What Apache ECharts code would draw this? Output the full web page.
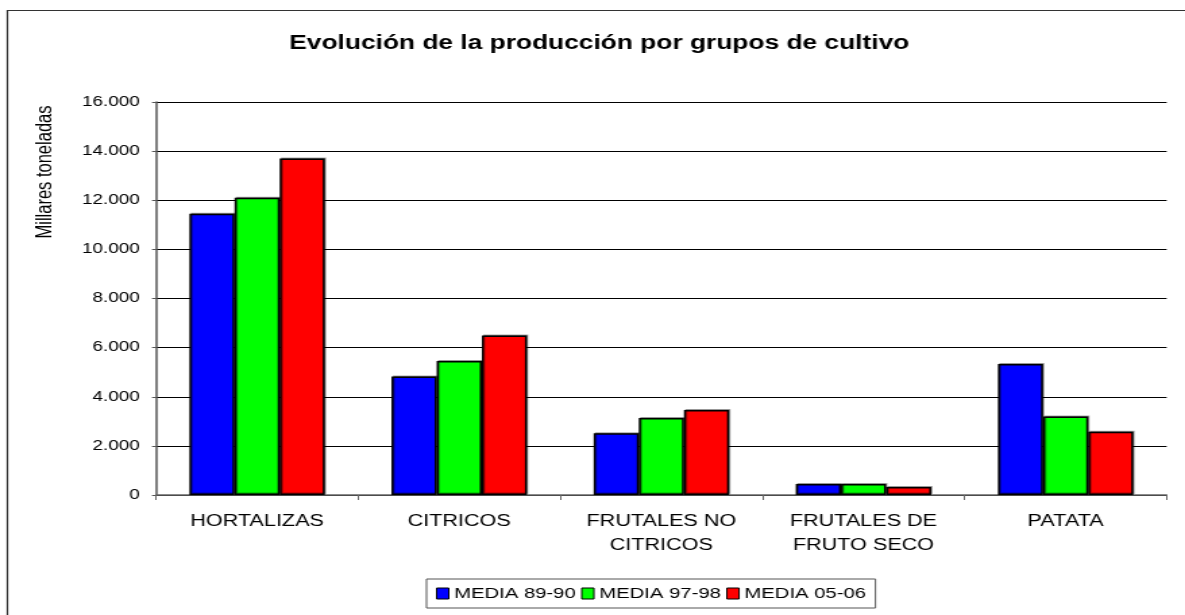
<!DOCTYPE html>
<html>
<head>
<meta charset="utf-8">
<title>Evolución de la producción por grupos de cultivo</title>
<script src="https://cdn.jsdelivr.net/npm/echarts@6/dist/echarts.min.js"></script>
<style>
  html, body { margin: 0; padding: 0; background: #fff; overflow: hidden; }
  /* el original esta estirado en horizontal: se dibuja mas estrecho y se escala */
  #chart { width: 878px; height: 615px; transform: scaleX(1.3497); transform-origin: 0 0; }
</style>
</head>
<body>
<div id="chart"></div>
<script>
// datos (miles de toneladas)
const categorias = ["HORTALIZAS", "CITRICOS", "FRUTALES NO\nCITRICOS", "FRUTALES DE\nFRUTO SECO", "PATATA"];
const media8990 = [11450, 4820, 2510, 450, 5330];
const media9798 = [12100, 5460, 3130, 450, 3200];
const media0506 = [13700, 6490, 3460, 330, 2580];
const nombresSeries = ["MEDIA 89-90", "MEDIA 97-98", "MEDIA 05-06"];
const colores = ["#0000ff", "#00ff00", "#ff0000"];

const fuente = "Liberation Sans, Arial, sans-serif";

let myChart = echarts.init(document.getElementById("chart"));

let seriesData = [media8990, media9798, media0506].map(function (valores, i) {
  return {
    name: nombresSeries[i],
    type: "bar",
    barGap: "0%",
    barCategoryGap: "33%",
    data: valores,
    itemStyle: {
      color: colores[i],
      borderColor: "#000",
      borderWidth: 1.5,
      shadowColor: "rgba(0,0,0,0.35)",
      shadowOffsetX: 1,
      shadowOffsetY: -1,
    },
    emphasis: { disabled: true },
  };
});

myChart.setOption({
  animation: false,
  backgroundColor: "#fff",
  textStyle: { fontFamily: fuente },
  title: {
    text: "Evolución de la producción por grupos de cultivo",
    left: 439,
    textAlign: "center",
    top: 29,
    textStyle: {
      fontFamily: fuente,
      fontSize: 19.5,
      fontWeight: "bold",
      color: "#000",
    },
  },
  legend: {
    data: nombresSeries,
    left: 316,
    top: 579,
    padding: [7, 7, 7, 7],
    borderColor: "#555",
    borderWidth: 1,
    itemWidth: 9,
    itemHeight: 11,
    itemGap: 4,
    icon: "rect",
    itemStyle: { borderColor: "#000", borderWidth: 1, shadowBlur: 0, shadowOffsetX: 0, shadowOffsetY: 0 },
    textStyle: { fontFamily: fuente, fontSize: 15, color: "#000", padding: [0, 0, 0, -1] },
  },
  grid: {
    left: 115.6,
    right: 13.6,
    top: 102,
    bottom: 120,
    containLabel: false,
  },
  xAxis: {
    type: "category",
    data: categorias,
    axisLine: { lineStyle: { color: "#666", width: 1.5 } },
    axisTick: { show: true, length: 5, lineStyle: { color: "#666" } },
    axisLabel: {
      color: "#000",
      fontFamily: fuente,
      fontSize: 16,
      lineHeight: 24,
      margin: 15,
    },
  },
  yAxis: {
    type: "value",
    min: 0,
    max: 16000,
    interval: 2000,
    axisLine: { show: true, lineStyle: { color: "#555", width: 1.5 } },
    axisTick: { show: true, inside: false, length: 3, lineStyle: { color: "#555" } },
    axisLabel: {
      color: "#000",
      fontFamily: fuente,
      fontSize: 14,
      margin: 12,
      formatter: function (v) {
        return v === 0 ? "0" : (v / 1000).toFixed(3);
      },
    },
    splitLine: { show: true, lineStyle: { color: "#000", width: 1 } },
  },
  graphic: [
    {
      // marco exterior
      type: "rect",
      shape: { x: 5.5, y: 10.5, width: 900, height: 700 },
      style: { fill: "none", stroke: "#333", lineWidth: 1.2 },
      silent: true,
    },
    {
      type: "text",
      x: 33,
      y: 172,
      rotation: Math.PI / 2,
      style: {
        text: "Millares toneladas",
        fontFamily: fuente,
        fontSize: 16.5,
        fill: "#000",
        align: "center",
        verticalAlign: "middle",
      },
      silent: true,
    },
  ],
  series: seriesData,
});
</script>
</body>
</html>
